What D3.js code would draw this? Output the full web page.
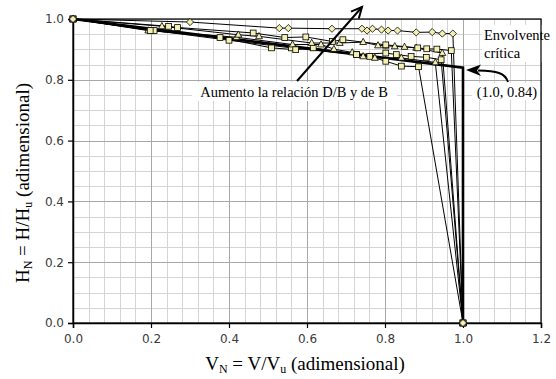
<!DOCTYPE html>
<html>
<head>
<meta charset="utf-8">
<script src="https://cdn.jsdelivr.net/npm/d3@7"></script>
<style>
  html, body { margin: 0; padding: 0; background: #fff; }
  svg { display: block; }
</style>
</head>
<body>
<svg id="chart" width="556" height="379"></svg>
<script>
// Axis ticks
const xTicks = [0, 0.2, 0.4, 0.6, 0.8, 1.0, 1.2];
const yTicks = [0, 0.2, 0.4, 0.6, 0.8, 1.0];

// Normalised shear (V_N) vs horizontal displacement (H_N) curves, one per case
const serieRombos = [[0,1],[0.30,0.990],[0.529,0.970],[0.552,0.970],[0.664,0.968],[0.741,0.968],[0.754,0.962],
  [0.768,0.968],[0.791,0.965],[0.808,0.962],[0.832,0.962],[0.880,0.956],[0.921,0.957],[0.947,0.952],[0.974,0.952],[1,0]];
const serieCuadradosA = [[0,1],[0.245,0.976],[0.268,0.972],[0.462,0.954],[0.543,0.939],[0.597,0.941],[0.665,0.926],
  [0.692,0.932],[0.802,0.915],[0.884,0.905],[0.907,0.902],[0.933,0.901],[0.970,0.896],[1,0]];
const serieTriangulosA = [[0,1],[0.228,0.976],[0.424,0.948],[0.477,0.943],[0.612,0.921],[0.684,0.921],[0.744,0.924],
  [0.782,0.913],[0.802,0.912],[0.825,0.910],[0.850,0.908],[0.880,0.905],[0.947,0.888],[1,0]];
const serieCuadradosB = [[0,1],[0.198,0.962],[0.377,0.939],[0.509,0.905],[0.571,0.899],[0.616,0.905],[0.727,0.883],
  [0.802,0.888],[0.829,0.883],[0.867,0.877],[0.906,0.874],[0.944,0.866],[1,0]];
const serieTriangulosB = [[0,1],[0.193,0.962],[0.419,0.940],[0.563,0.916],[0.636,0.916],[0.669,0.901],[0.716,0.890],
  [0.744,0.877],[0.774,0.872],[0.842,0.872],[0.929,0.857],[1,0]];
const serieCuadradosC = [[0,1],[0.208,0.962],[0.40,0.930],[0.560,0.905],[0.727,0.883],[0.761,0.877],[0.802,0.861],
  [0.842,0.845],[0.886,0.843],[1,0]];
const envolvente = [[0,1],[1.0,0.84],[1.0,0]];

const series = [
  {data: serieCuadradosC, mark: "square"},
  {data: serieTriangulosB, mark: "triangle"},
  {data: serieCuadradosB, mark: "square"},
  {data: serieTriangulosA, mark: "triangle"},
  {data: serieCuadradosA, mark: "square"},
  {data: serieRombos, mark: "diamond"}
];

const svg = d3.select("#chart");
const m = {left: 73, right: 15, top: 19, bottom: 56};
const W = 556, H = 379;
const x = d3.scaleLinear().domain([0, 1.2]).range([m.left, W - m.right]);
const y = d3.scaleLinear().domain([0, 1]).range([H - m.bottom, m.top]);

// Grid: minor then major
const minorX = d3.range(0, 1.2001, 0.04), minorY = d3.range(0, 1.0001, 0.05);
const g = svg.append("g");
g.selectAll(".mx").data(minorX).join("line")
  .attr("x1", d => Math.round(x(d)) + 0.5).attr("x2", d => Math.round(x(d)) + 0.5)
  .attr("y1", y(0)).attr("y2", y(1)).attr("stroke", "#d4d4d4").attr("stroke-width", 1);
g.selectAll(".my").data(minorY).join("line")
  .attr("y1", d => Math.round(y(d)) + 0.5).attr("y2", d => Math.round(y(d)) + 0.5)
  .attr("x1", x(0)).attr("x2", x(1.2)).attr("stroke", "#d4d4d4").attr("stroke-width", 1);
g.selectAll(".Mx").data(xTicks).join("line")
  .attr("x1", d => Math.round(x(d)) + 0.5).attr("x2", d => Math.round(x(d)) + 0.5)
  .attr("y1", y(0)).attr("y2", y(1)).attr("stroke", "#a8a8a8").attr("stroke-width", 1);
g.selectAll(".My").data(yTicks).join("line")
  .attr("y1", d => Math.round(y(d)) + 0.5).attr("y2", d => Math.round(y(d)) + 0.5)
  .attr("x1", x(0)).attr("x2", x(1.2)).attr("stroke", "#a8a8a8").attr("stroke-width", 1);

// Annotation backgrounds (hide grid behind the labels)
svg.append("rect").attr("x", 192).attr("y", 82).attr("width", 205).attr("height", 19).attr("fill", "#fff");
svg.append("rect").attr("x", 482).attr("y", 25).attr("width", 70).attr("height", 37).attr("fill", "#fff");
svg.append("rect").attr("x", 472).attr("y", 83).attr("width", 69).attr("height", 17).attr("fill", "#fff");

// Frame
svg.append("rect").attr("x", x(0)).attr("y", y(1)).attr("width", x(1.2) - x(0)).attr("height", y(0) - y(1))
  .attr("fill", "none").attr("stroke", "#000").attr("stroke-width", 1.2);

// Axes
const xAxis = svg.append("g").attr("transform", `translate(0,${y(0)})`)
  .call(d3.axisBottom(x).tickValues(xTicks).tickFormat(d3.format(".1f")).tickSize(5).tickPadding(6));
const yAxis = svg.append("g").attr("transform", `translate(${x(0)},0)`)
  .call(d3.axisLeft(y).tickValues(yTicks).tickFormat(d3.format(".1f")).tickSize(5).tickPadding(4));
[xAxis, yAxis].forEach(a => {
  a.select(".domain").attr("stroke", "#000").attr("stroke-width", 1.5);
  a.selectAll(".tick line").attr("stroke", "#000").attr("stroke-width", 1.2);
  a.selectAll("text").attr("font-family", "DejaVu Sans").attr("font-size", 12).attr("fill", "#3a3a3a");
});

// Curves
const line = d3.line().x(d => x(d[0])).y(d => y(d[1]));
const curves = svg.append("g");
series.forEach(s => {
  curves.append("path").attr("d", line(s.data)).attr("fill", "none")
    .attr("stroke", "#000").attr("stroke-width", 1);
});
// Critical envelope
curves.append("path").attr("d", line(envolvente)).attr("fill", "none")
  .attr("stroke", "#000").attr("stroke-width", 2.6);

// Markers
const fillM = "#f4f0b2";
function marker(sel, kind) {
  if (kind === "square") {
    sel.append("rect").attr("x", -2.9).attr("y", -2.9).attr("width", 5.8).attr("height", 5.8);
  } else if (kind === "triangle") {
    sel.append("path").attr("d", "M0,-3.8L3.4,2.4L-3.4,2.4Z");
  } else {
    sel.append("path").attr("d", "M0,-3.6L3.6,0L0,3.6L-3.6,0Z");
  }
}
series.forEach(s => {
  s.data.forEach(d => {
    const gm = curves.append("g").attr("transform", `translate(${x(d[0])},${y(d[1])})`);
    marker(gm, s.mark);
    gm.selectAll("*").attr("fill", fillM).attr("stroke", "#000").attr("stroke-width", 0.8);
  });
});

// Axis titles
const serif = "Liberation Serif";
const xt = svg.append("text").attr("x", 305).attr("y", 370).attr("text-anchor", "middle")
  .attr("font-family", serif).attr("font-size", 19).attr("fill", "#000");
xt.append("tspan").text("V");
xt.append("tspan").text("N").attr("font-size", 12).attr("dy", 2.5);
xt.append("tspan").text(" = V/V").attr("dy", -2.5);
xt.append("tspan").text("u").attr("font-size", 12).attr("dy", 2.5);
xt.append("tspan").text(" (adimensional)").attr("dy", -2.5);

const yt = svg.append("text").attr("transform", "translate(29,183) rotate(-90)").attr("text-anchor", "middle")
  .attr("font-family", serif).attr("font-size", 19).attr("fill", "#000");
yt.append("tspan").text("H");
yt.append("tspan").text("N").attr("font-size", 12).attr("dy", 3);
yt.append("tspan").text(" = H/H").attr("dy", -3);
yt.append("tspan").text("u").attr("font-size", 12).attr("dy", 3);
yt.append("tspan").text(" (adimensional)").attr("dy", -3);

// Annotations
svg.append("text").attr("x", 294).attr("y", 96.5).attr("text-anchor", "middle")
  .attr("font-family", serif).attr("font-size", 14.5).text("Aumento la relación D/B y de B");
svg.append("text").attr("x", 484).attr("y", 40).attr("font-family", serif).attr("font-size", 14.5).text("Envolvente");
svg.append("text").attr("x", 484).attr("y", 58).attr("font-family", serif).attr("font-size", 14.5).text("crítica");
svg.append("text").attr("x", 507).attr("y", 96.5).attr("text-anchor", "middle")
  .attr("font-family", serif).attr("font-size", 14.5).text("(1.0, 0.84)");

// Straight arrow with open head
const a0 = [297, 81], a1 = [362, 7];
svg.append("line").attr("x1", a0[0]).attr("y1", a0[1]).attr("x2", a1[0]).attr("y2", a1[1])
  .attr("stroke", "#000").attr("stroke-width", 2);
const ang = Math.atan2(a1[1] - a0[1], a1[0] - a0[0]);
const hl = 12, hw = 0.45;
svg.append("path").attr("d",
  `M${a1[0] - hl * Math.cos(ang - hw)},${a1[1] - hl * Math.sin(ang - hw)}L${a1[0]},${a1[1]}L${a1[0] - hl * Math.cos(ang + hw)},${a1[1] - hl * Math.sin(ang + hw)}`)
  .attr("fill", "none").attr("stroke", "#000").attr("stroke-width", 2).attr("stroke-linejoin", "miter");

// Curved arrow pointing at the envelope corner
svg.append("path").attr("d", "M508,82 C505,73 497,71 478,70.5").attr("fill", "none")
  .attr("stroke", "#000").attr("stroke-width", 2);
svg.append("path").attr("d", "M466,70 L481,64.5 L477,70.5 L481,76 Z").attr("fill", "#000");
</script>
</body>
</html>
